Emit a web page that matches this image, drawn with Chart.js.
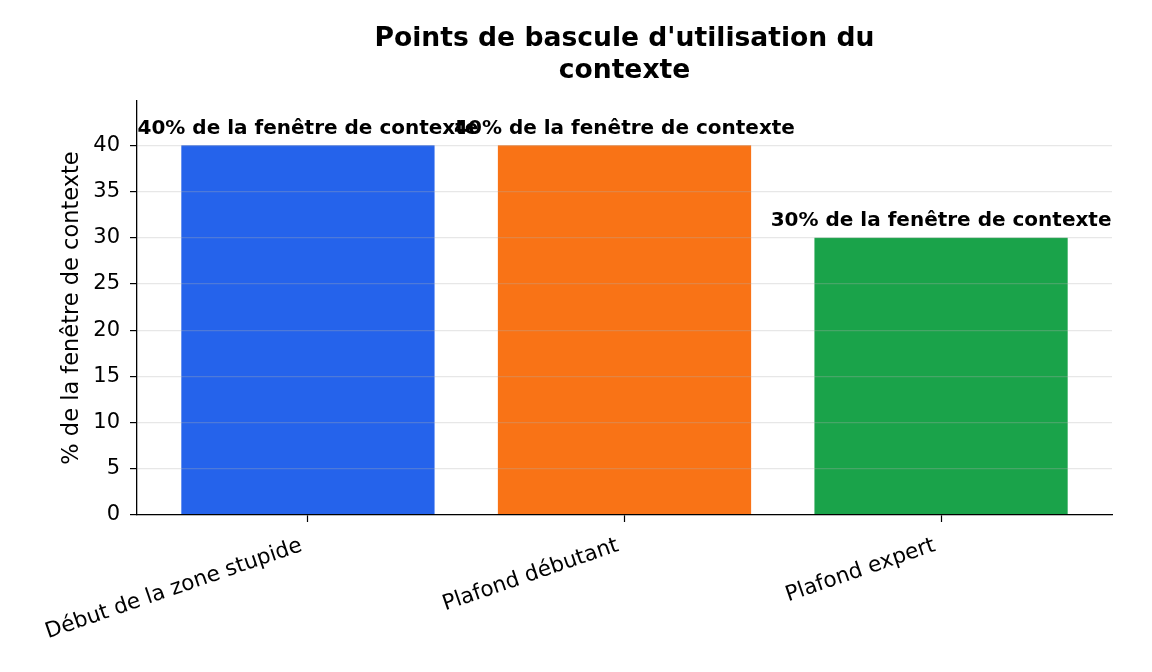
<!DOCTYPE html>
<html>
<head>
<meta charset="utf-8">
<script src="https://cdn.jsdelivr.net/npm/chart.js@4.4.1/dist/chart.umd.min.js"></script>
<style>
  html, body { margin: 0; padding: 0; background: #fff; }
  #wrap { width: 1152px; height: 672px; }
</style>
</head>
<body>
<div id="wrap"><canvas id="c" width="1152" height="672"></canvas></div>
<script>
const categories = ["Début de la zone stupide", "Plafond débutant", "Plafond expert"];
const values = [40, 40, 30];
const valueLabels = ["40% de la fenêtre de contexte", "40% de la fenêtre de contexte", "30% de la fenêtre de contexte"];
const barColors = ["#2563eb", "#f97316", "#1aa34a"];
const yTicks = [0, 5, 10, 15, 20, 25, 30, 35, 40];
const titleLines = ["Points de bascule d'utilisation du", "contexte"];
const yAxisTitle = "% de la fenêtre de contexte";

const FONT = "'DejaVu Sans', sans-serif";

const overlayPlugin = {
  id: 'overlay',
  afterDraw(chart) {
    const ctx = chart.ctx;
    const area = chart.chartArea;
    ctx.save();
    ctx.fillStyle = '#000';
    ctx.textAlign = 'center';
    ctx.textBaseline = 'alphabetic';
    ctx.font = "bold 26.6px " + FONT;
    const cx = (area.left + area.right) / 2;
    titleLines.forEach((t, i) => ctx.fillText(t, cx, 46 + i * 32));
    ctx.font = "bold 20px " + FONT;
    const meta = chart.getDatasetMeta(0);
    meta.data.forEach((bar, i) => {
      ctx.fillText(valueLabels[i], bar.x, bar.y - 11.5);
    });
    // rotated category labels (matplotlib-style ha='right')
    const xs = chart.scales.x;
    const ang = 19 * Math.PI / 180;
    const fs = 21.5;
    ctx.font = fs + "px " + FONT;
    ctx.textAlign = 'right';
    ctx.textBaseline = 'top';
    categories.forEach((c, i) => {
      const px = xs.getPixelForValue(i);
      const ax = px - 10;
      const ay = area.bottom + 20;
      ctx.save();
      ctx.translate(ax, ay);
      ctx.rotate(-ang);
      ctx.fillText(c, 0, 0);
      ctx.restore();
    });
    ctx.restore();
  }
};

new Chart(document.getElementById('c'), {
  type: 'bar',
  data: {
    datasets: [{
      data: categories.map((c, i) => ({ x: i, y: values[i] })),
      backgroundColor: barColors,
      borderWidth: 0,
      barPercentage: 0.8,
      categoryPercentage: 1.0
    }]
  },
  options: {
    responsive: false,
    animation: false,
    devicePixelRatio: 1,
    layout: { autoPadding: false, padding: { left: 0, right: 40, top: 101, bottom: 0 } },
    plugins: { legend: { display: false }, tooltip: { enabled: false }, title: { display: false } },
    scales: {
      x: {
        type: 'linear',
        offset: false,
        min: -0.54,
        max: 2.54,
        afterFit(s) { s.height = 157; },
        afterBuildTicks(axis) { axis.ticks = categories.map((c, i) => ({ value: i })); },
        grid: { display: true, offset: false, drawOnChartArea: false, drawTicks: true, tickLength: 7, tickColor: '#000', tickWidth: 1.2 },
        border: { display: true, color: '#000', width: 1.3, z: 3 },
        ticks: { display: false }
      },
      y: {
        min: 0,
        max: 44.8,
        afterFit(s) { s.width = 137; },
        afterBuildTicks(axis) { axis.ticks = yTicks.map(v => ({ value: v })); },
        grid: { display: true, color: 'rgba(176,176,176,0.3)', lineWidth: 1.2, drawTicks: true, tickLength: 7, tickColor: '#000', tickWidth: 1.2, z: 1 },
        border: { display: true, color: '#000', width: 1.3, z: 3 },
        ticks: {
          padding: 10,
          color: '#000',
          font: { family: FONT, size: 21 },
          includeBounds: false
        },
        title: {
          display: true,
          text: yAxisTitle,
          color: '#000',
          font: { family: FONT, size: 22.5 },
          padding: { top: 58.5, bottom: 0 }
        }
      }
    }
  },
  plugins: [overlayPlugin]
});
</script>
</body>
</html>
